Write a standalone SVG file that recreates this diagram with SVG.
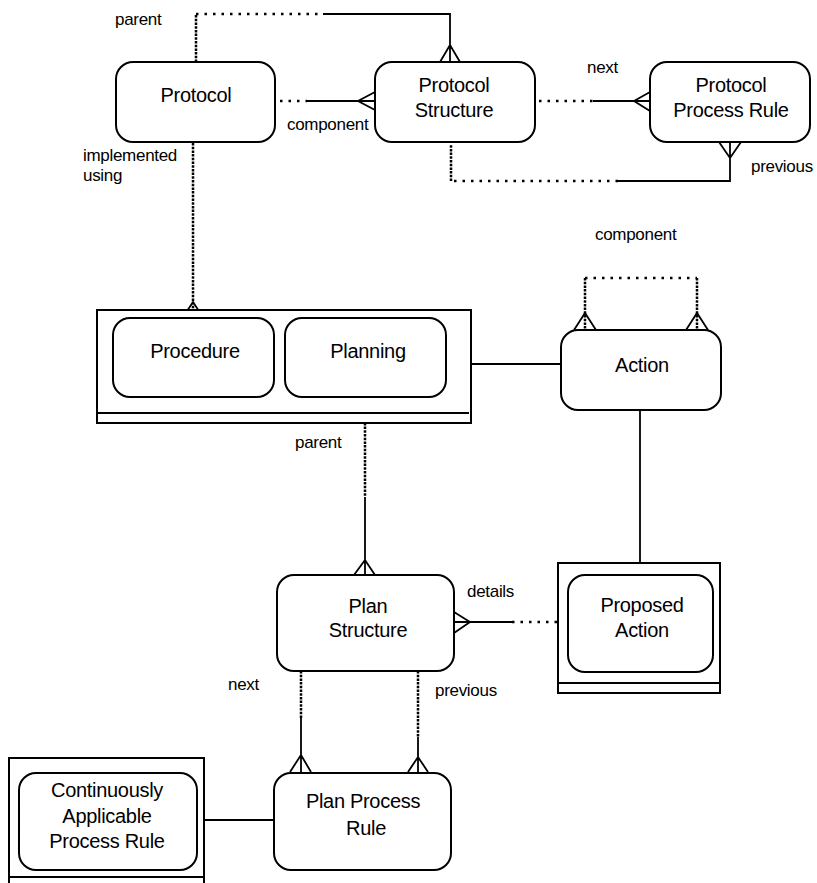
<svg xmlns="http://www.w3.org/2000/svg" width="817" height="883" viewBox="0 0 817 883">
<style>
.box{fill:#fff;stroke:#000;stroke-width:2}
.cont{fill:#fff;stroke:#000;stroke-width:2}
.sl{fill:none;stroke:#000;stroke-width:1.8}
.dh{fill:none;stroke:#000;stroke-width:2.5;stroke-dasharray:2.5 6}
.dv{fill:none;stroke:#000;stroke-width:2.5;stroke-dasharray:2.5 1.2}
.nt{font-family:"Liberation Sans",Arial,sans-serif;font-size:20px;fill:#000;text-anchor:middle;letter-spacing:-0.3px}
.lb{font-family:"Liberation Sans",Arial,sans-serif;font-size:17px;fill:#000;letter-spacing:-0.3px}
</style>
<rect width="817" height="883" fill="#fff"/>

<g id="connectors">
  <!-- parent: Protocol -> Protocol Structure -->
  <path class="dv" d="M196,62 V14"/>
  <path class="dh" d="M196,14 H323"/>
  <path class="sl" d="M323,14 H450 V62 M440,62 L450,45 L460,62"/>
  <!-- component: Protocol -> Protocol Structure -->
  <path class="dh" d="M280,101 H307"/>
  <path class="sl" d="M307,101 H375 M375,92 L358,101 L375,110"/>
  <!-- next: Protocol Structure -> Protocol Process Rule -->
  <path class="dh" d="M539,101 H593"/>
  <path class="sl" d="M593,101 H650 M650,92 L634,101 L650,111"/>
  <!-- previous -->
  <path class="sl" d="M730,142 V181 H618 M719,142 L730,158 L741,142"/>
  <path class="dh" d="M618,181 H451"/>
  <path class="dv" d="M451,181 V144"/>
  <!-- implemented using: Protocol -> Procedure -->
  <path class="dv" d="M193,143 V317"/>
  <path class="sl" d="M183,317 L193,302 L203,317"/>
  <!-- container -> Action -->
  <path class="sl" d="M471,364 H561"/>
  <!-- component self loop on Action -->
  <path class="dv" d="M585,278 V330"/>
  <path class="dv" d="M697,278 V330"/>
  <path class="dh" d="M585,278 H697"/>
  <path class="sl" d="M574,330 L585,313 L596,330 M686,330 L697,313 L708,330"/>
  <!-- Action -> Proposed Action -->
  <path class="sl" d="M640,410 V563"/>
  <!-- parent: Planning -> Plan Structure -->
  <path class="dv" d="M365,397 V497"/>
  <path class="sl" d="M365,497 V575 M354,575 L365,560 L375,575"/>
  <!-- details -->
  <path class="sl" d="M454,622 H512 M454,612 L470,622 L454,633"/>
  <path class="dh" d="M512,622 H558"/>
  <!-- next: Plan Structure -> Plan Process Rule -->
  <path class="dv" d="M301,671 V718"/>
  <path class="sl" d="M301,718 V773 M290,772 L301,755 L311,772"/>
  <!-- previous -->
  <path class="dv" d="M418,671 V737"/>
  <path class="sl" d="M418,737 V773 M408,772 L418,757 L428,772"/>
  <!-- Continuously Applicable container -> Plan Process Rule -->
  <path class="sl" d="M204,820 H274"/>
</g>

<g id="labels">
  <text class="lb" x="115" y="25">parent</text>
  <text class="lb" x="287" y="130">component</text>
  <text class="lb" x="587" y="73">next</text>
  <text class="lb" x="751" y="172">previous</text>
  <text class="lb" x="83" y="161">implemented</text>
  <text class="lb" x="83" y="181">using</text>
  <text class="lb" x="595" y="240">component</text>
  <text class="lb" x="295" y="448">parent</text>
  <text class="lb" x="467" y="597">details</text>
  <text class="lb" x="228" y="690">next</text>
  <text class="lb" x="435" y="696">previous</text>
</g>

<g id="protocol">
  <rect class="box" x="116" y="62" width="159" height="80" rx="17"/>
  <text class="nt" x="196" y="102">Protocol</text>
</g>
<g id="protocol-structure">
  <rect class="box" x="375" y="62" width="160" height="80" rx="17"/>
  <text class="nt" x="454" y="92">Protocol</text>
  <text class="nt" x="454" y="117">Structure</text>
</g>
<g id="protocol-process-rule">
  <rect class="box" x="650" y="62" width="160" height="80" rx="17"/>
  <text class="nt" x="731" y="92">Protocol</text>
  <text class="nt" x="731" y="117">Process Rule</text>
</g>
<g id="procedure-planning">
  <rect class="cont" x="97" y="310" width="374" height="113"/>
  <path class="sl" d="M97,413 H469"/>
  <g id="procedure">
    <rect class="box" x="113" y="318" width="161" height="79" rx="17"/>
    <text class="nt" x="195" y="358">Procedure</text>
  </g>
  <g id="planning">
    <rect class="box" x="285" y="318" width="161" height="79" rx="17"/>
    <text class="nt" x="368" y="358">Planning</text>
  </g>
</g>
<g id="action">
  <rect class="box" x="561" y="330" width="160" height="80" rx="17"/>
  <text class="nt" x="642" y="372">Action</text>
</g>
<g id="plan-structure">
  <rect class="box" x="277" y="575" width="177" height="96" rx="17"/>
  <text class="nt" x="368" y="613">Plan</text>
  <text class="nt" x="368" y="637">Structure</text>
</g>
<g id="proposed-action">
  <rect class="cont" x="558" y="563" width="162" height="130"/>
  <path class="sl" d="M558,683 H720"/>
  <rect class="box" x="568" y="575" width="145" height="97" rx="17"/>
  <text class="nt" x="642" y="612">Proposed</text>
  <text class="nt" x="642" y="637">Action</text>
</g>
<g id="plan-process-rule">
  <rect class="box" x="274" y="773" width="177" height="97" rx="17"/>
  <text class="nt" x="363" y="808">Plan Process</text>
  <text class="nt" x="366" y="835">Rule</text>
</g>
<g id="continuously-applicable-process-rule">
  <rect class="cont" x="9" y="758" width="195" height="130"/>
  <path class="sl" d="M9,877 H204"/>
  <rect class="box" x="19" y="773" width="178" height="97" rx="17"/>
  <text class="nt" x="107" y="797">Continuously</text>
  <text class="nt" x="107" y="823">Applicable</text>
  <text class="nt" x="107" y="848">Process Rule</text>
</g>
</svg>
